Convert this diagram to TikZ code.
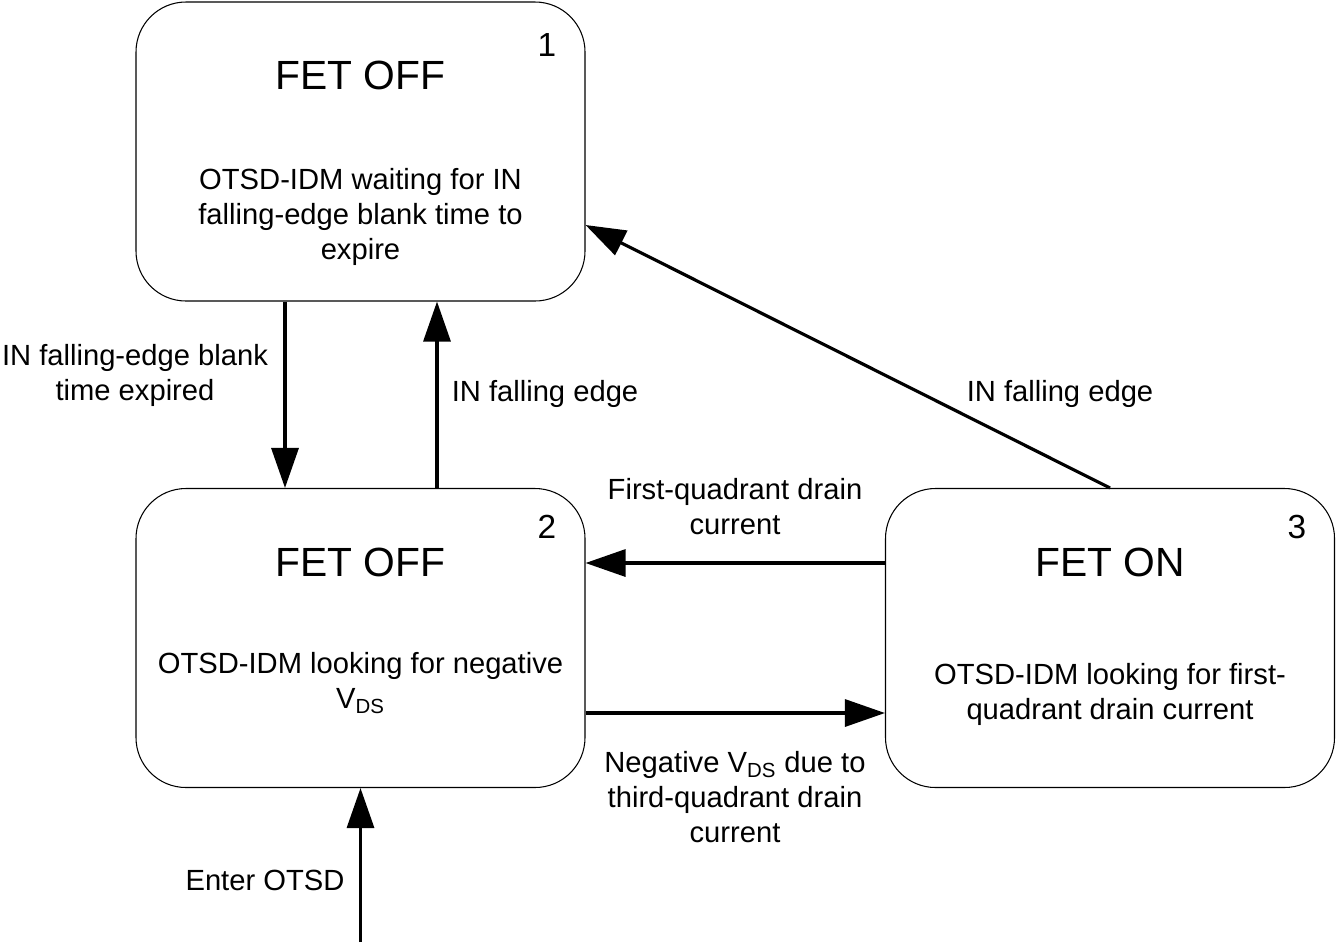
\documentclass[tikz,border=0pt]{standalone}
\usepackage{fontspec}
\setmainfont{Liberation Sans}
\usetikzlibrary{arrows.meta,positioning}

\begin{document}
\begin{tikzpicture}[
	state/.style={draw,rounded corners=1cm,minimum width=8.98cm,minimum height=5.98cm,line width=0.6pt},
	title/.style={font=\fontsize{23.2}{28}\selectfont},
	num/.style={font=\fontsize{19}{22}\selectfont},
	body/.style={align=center,font=\fontsize{16.6}{19.9}\selectfont},
	trans/.style={-{Triangle[length=0.8cm,width=0.54cm]},line width=1.8pt}
]
\useasboundingbox (0,0) rectangle (26.74,-18.84);
% states
\node [state] (s1) at (7.21,-3.03) {};
\node [state] (s2) at (7.21,-12.76) {};
\node [state] (s3) at (22.2,-12.76) {};
\node [title] (t1) at (7.21,-1.5) {FET OFF};
\node [title] (t2) at (7.21,-11.24) {FET OFF};
\node [title] (t3) at (22.2,-11.24) {FET ON};
\node [num] (n1) at (10.94,-0.9) {1};
\node [num] (n2) at (10.94,-10.54) {2};
\node [num] (n3) at (25.94,-10.54) {3};
\node [body] (b1) at (7.21,-4.34) {OTSD-IDM waiting for IN\\falling-edge blank time to\\expire};
\node [body] (b2) at (7.21,-13.66) {OTSD-IDM looking for negative\\V\textsubscript{DS}};
\node [body] (b3) at (22.2,-13.88) {OTSD-IDM looking for first-\\quadrant drain current};
% transitions
\coordinate (start) at (7.21,-18.84);
\draw [trans] ([xshift=-1.51cm]s1.south) -- ([xshift=-1.51cm]s2.north);
\draw [trans] ([xshift=1.53cm]s2.north) -- ([xshift=1.53cm]s1.south);
\draw [trans] (s3.north) -- ([yshift=-1.47cm]s1.east);
\draw [trans] ([yshift=1.5cm]s3.west) -- ([yshift=1.5cm]s2.east);
\draw [trans] ([yshift=-1.5cm]s2.east) -- ([yshift=-1.5cm]s3.west);
\draw [trans] (start) -- (s2.south);
% labels
\node [body] (l1) at (2.7,-7.5) {IN falling-edge blank\\time expired};
\node [body] (l2) at (10.9,-7.88) {IN falling edge};
\node [body] (l3) at (21.2,-7.88) {IN falling edge};
\node [body] (l4) at (14.7,-10.14) {First-quadrant drain\\current};
\node [body] (l5) at (14.7,-15.94) {Negative V\textsubscript{DS} due to\\third-quadrant drain\\current};
\node [body] (l6) at (5.3,-17.6) {Enter OTSD};
\end{tikzpicture}
\end{document}
